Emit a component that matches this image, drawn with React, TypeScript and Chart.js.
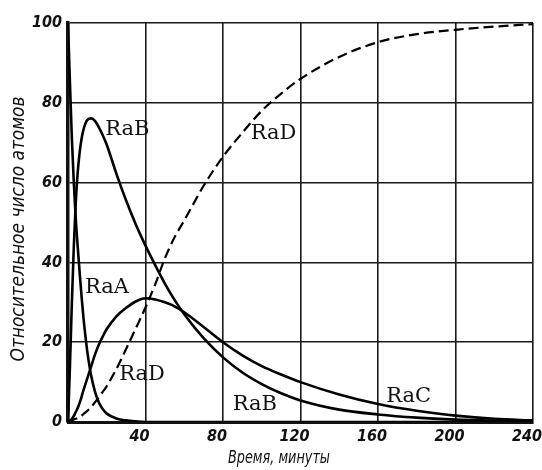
import React, { useEffect, useRef } from "react";
import { Chart, registerables } from "chart.js";

Chart.register(...registerables);

// time, minutes
const times = [0, 1, 2, 3, 4, 5, 6, 7, 8, 9, 10, 12, 14, 16, 18, 20, 25, 30, 35, 40, 45, 50, 55, 60, 70, 80, 90, 100, 110, 120, 140, 160, 180, 200, 220, 240];
// relative number of atoms
const raA = [100, 85, 71, 60, 51, 44, 37.5, 31.5, 26, 21.5, 17.5, 11.5, 7.5, 4.8, 3.2, 2.1, 0.9, 0.4, 0.15, 0, 0, 0, 0, 0, 0, 0, 0, 0, 0, 0, 0, 0, 0, 0, 0, 0];
const raB = [0, 14, 30, 44, 55, 62.5, 67.5, 71, 73.3, 74.8, 75.7, 76.1, 75.4, 73.8, 71.8, 69.5, 62.2, 55.5, 49.5, 44.2, 39.3, 34.7, 30.6, 27, 21, 16.2, 12.4, 9.5, 7.2, 5.4, 3.1, 1.9, 1.1, 0.6, 0.3, 0.1];
const raC = [0, 0.3, 0.8, 1.5, 2.5, 3.5, 4.8, 6.3, 8, 9.5, 11, 14, 17, 19.5, 21.5, 23.3, 26.5, 28.6, 30.2, 31, 30.7, 30, 29, 27.5, 23.8, 20, 16.7, 14, 11.9, 10, 6.9, 4.5, 2.8, 1.6, 0.8, 0.4];
const raD = [0, 0.15, 0.35, 0.6, 0.8, 1, 1.3, 1.6, 2, 2.4, 2.8, 3.8, 5, 6.3, 7.6, 9, 13.3, 18.3, 23.5, 28.7, 34.5, 41, 46.3, 50.5, 59.2, 66.5, 72.5, 78, 82.3, 86, 91.5, 95.2, 97.2, 98.3, 99.1, 99.7];

const xTicks = [0, 40, 80, 120, 160, 200, 240];
const yTicks = [0, 20, 40, 60, 80, 100];

const xTitle = "Время, минуты";
const yTitle = "Относительное число атомов";

// curve name labels, anchored at (time, value) of their left-middle point
const labelNames = ["RaB", "RaD", "RaA", "RaD", "RaB", "RaC"];
const labelTimes = [19.2, 94.3, 8.8, 26.4, 85, 164.2];
const labelValues = [73.2, 72.2, 33.8, 11.8, 4.3, 6.5];

const toPoints = (vals: number[]) => times.map((t, i) => ({ x: t, y: vals[i] }));

const tickFont = {
  family: "'DejaVu Sans Condensed', 'DejaVu Sans', sans-serif",
  size: 16,
  style: "italic" as const,
  weight: "bold" as const,
};

function fitText(
  ctx: CanvasRenderingContext2D,
  text: string,
  cx: number,
  cy: number,
  width: number,
  rot: number
) {
  ctx.save();
  const w = ctx.measureText(text).width;
  ctx.translate(cx, cy);
  ctx.rotate(rot);
  ctx.scale(width / w, 1);
  ctx.textAlign = "center";
  ctx.textBaseline = "middle";
  ctx.fillText(text, 0, 0);
  ctx.restore();
}

const textPlugin = {
  id: "texts",
  afterDraw(chart: any) {
    const { ctx, scales } = chart;
    const x = scales.x;
    const y = scales.y;
    ctx.save();
    ctx.fillStyle = "#111";
    ctx.font = "21px 'DejaVu Serif', serif";
    ctx.textAlign = "left";
    ctx.textBaseline = "middle";
    labelNames.forEach((name, i) => {
      ctx.fillText(name, x.getPixelForValue(labelTimes[i]), y.getPixelForValue(labelValues[i]));
    });
    ctx.font = "italic 17px 'DejaVu Sans Condensed', 'DejaVu Sans', sans-serif";
    fitText(ctx, xTitle, 279, 459, 102, 0);
    ctx.font = "italic 20px 'DejaVu Sans Condensed', 'DejaVu Sans', sans-serif";
    fitText(ctx, yTitle, 19, 229, 265, -Math.PI / 2);
    ctx.restore();
  },
};

export default function App() {
  const ref = useRef<HTMLCanvasElement | null>(null);

  useEffect(() => {
    if (!ref.current) return;
    const solid = {
      borderColor: "#000",
      borderWidth: 2.6,
      pointRadius: 0,
      fill: false,
      cubicInterpolationMode: "monotone" as const,
    };
    const chart = new Chart(ref.current, {
      type: "line",
      data: {
        datasets: [
          { label: "RaA", data: toPoints(raA), ...solid },
          { label: "RaB", data: toPoints(raB), ...solid },
          { label: "RaC", data: toPoints(raC), ...solid },
          {
            label: "RaD",
            data: toPoints(raD),
            ...solid,
            borderWidth: 2.2,
            borderDash: [10, 5],
          },
        ],
      },
      options: {
        animation: false,
        responsive: false,
        events: [],
        layout: { padding: { top: 23, right: 9, left: 0, bottom: 0 } },
        plugins: { legend: { display: false }, tooltip: { enabled: false } },
        scales: {
          x: {
            type: "linear",
            min: 0,
            max: 240,
            afterBuildTicks: (s: any) => {
              s.ticks = xTicks.map((v) => ({ value: v }));
            },
            afterFit: (s: any) => {
              s.height = 48;
              s.paddingLeft = 0;
              s.paddingRight = 0;
            },
            ticks: {
              callback: (v: any) => (Number(v) === 0 ? "" : String(v)),
              font: tickFont,
              color: "#111",
              padding: 5,
              labelOffset: -6,
              maxRotation: 0,
              autoSkip: false,
            },
            grid: { color: "#1a1a1a", lineWidth: 1.6, drawTicks: false },
            border: { color: "#111", width: 3 },
          },
          y: {
            type: "linear",
            min: 0,
            max: 100,
            afterBuildTicks: (s: any) => {
              s.ticks = yTicks.map((v) => ({ value: v }));
            },
            afterFit: (s: any) => {
              s.width = 68;
              s.paddingTop = 0;
              s.paddingBottom = 0;
            },
            ticks: {
              font: tickFont,
              color: "#111",
              padding: 6,
              autoSkip: false,
            },
            grid: { color: "#1a1a1a", lineWidth: 1.6, drawTicks: false },
            border: { color: "#111", width: 3.5 },
          },
        },
      },
      plugins: [textPlugin],
    });
    return () => chart.destroy();
  }, []);

  return (
    <div style={{ position: "fixed", left: 0, top: 0, width: 542, height: 470, background: "#fff" }}>
      <canvas ref={ref} width={542} height={470} style={{ display: "block" }} />
    </div>
  );
}
